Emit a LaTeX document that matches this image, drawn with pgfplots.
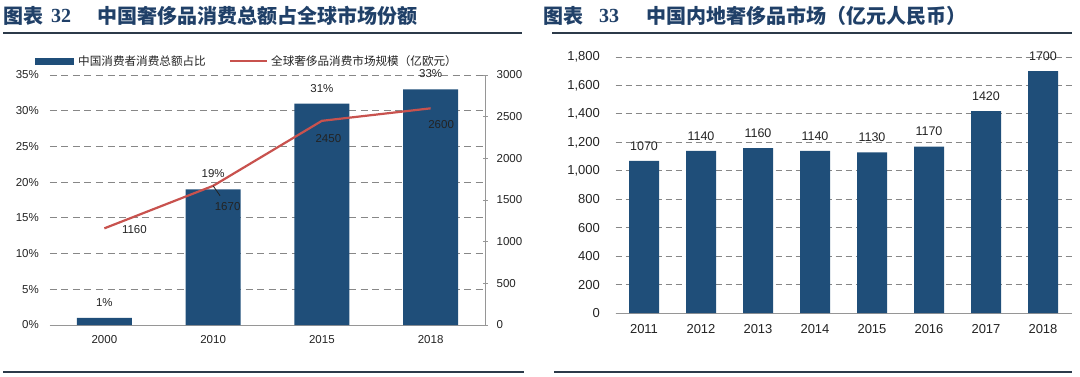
\documentclass[border=0pt]{standalone}
\usepackage{pgfplots}
\usepackage{pgfplotstable}
\pgfplotsset{compat=1.18}
\usepackage{fontspec}
\setmainfont{Liberation Sans}
\newfontfamily\cjk{Noto Sans CJK SC}
\newfontfamily\serifnum{Liberation Serif}
\definecolor{barblue}{RGB}{31,78,121}
\definecolor{linered}{RGB}{200,82,78}
\definecolor{titleblue}{RGB}{32,64,104}
\definecolor{rulecol}{RGB}{44,58,74}
\definecolor{gridgray}{RGB}{135,135,135}
\definecolor{axgray}{RGB}{150,150,150}
\definecolor{txt}{RGB}{35,35,35}
\pgfplotsset{/pgf/number format/assume math mode=true, /pgf/number format/1000 sep={}}

\pgfplotstableread{
x y
0 1
1 19
2 31
3 33
}\sharedata
\pgfplotstableread{
x y dx dy
0 1160 30 -1
1 1670 14.5 -21
2 2450 6.5 -18
3 2600 10.5 -16
}\marketdata
\pgfplotstableread{
x y
0 1070
1 1140
2 1160
3 1140
4 1130
5 1170
6 1420
7 1700
}\chinadata

\begin{document}
\begin{tikzpicture}
\path[use as bounding box] (0,0) rectangle (1080pt,376pt);
% titles
\node[anchor=west, inner sep=0pt, text=titleblue, font=\cjk\bfseries\fontsize{20}{24}\selectfont] at (3pt,360pt) {图表};
\node[anchor=west, inner sep=0pt, text=titleblue, font=\serifnum\bfseries\fontsize{20}{24}\selectfont] at (51pt,360pt) {32};
\node[anchor=west, inner sep=0pt, text=titleblue, font=\cjk\bfseries\fontsize{20}{24}\selectfont] at (97pt,360pt) {中国奢侈品消费总额占全球市场份额};
\node[anchor=west, inner sep=0pt, text=titleblue, font=\cjk\bfseries\fontsize{20}{24}\selectfont] at (543pt,360pt) {图表};
\node[anchor=west, inner sep=0pt, text=titleblue, font=\serifnum\bfseries\fontsize{20}{24}\selectfont] at (599pt,360pt) {33};
\node[anchor=west, inner sep=0pt, text=titleblue, font=\cjk\bfseries\fontsize{20}{24}\selectfont] at (646pt,360pt) {中国内地奢侈品市场（亿元人民币）};
% rules
\draw[rulecol, line width=2.5pt] (3pt,343pt) -- (522pt,343pt);
\draw[rulecol, line width=2.5pt] (552pt,343pt) -- (1072pt,343pt);
\draw[rulecol, line width=2pt] (3pt,4pt) -- (524pt,4pt);
\draw[rulecol, line width=2pt] (554pt,4pt) -- (1072pt,4pt);
% legend (left chart)
\fill[barblue] (35pt,311.5pt) rectangle (74pt,318.5pt);
\node[anchor=west, inner sep=0pt, text=txt, font=\cjk\fontsize{11.6}{13}\selectfont] at (78pt,315pt) {中国消费者消费总额占比};
\draw[linered, line width=2.5pt] (230pt,315pt) -- (267pt,315pt);
\node[anchor=west, inner sep=0pt, text=txt, font=\cjk\fontsize{11.6}{13}\selectfont] at (271pt,315pt) {全球奢侈品消费市场规模（亿欧元）};

% ---------- left chart: bars ----------
\begin{axis}[
  at={(50pt,51pt)}, anchor=south west, scale only axis,
  width=435pt, height=250pt,
  ybar, bar width=55pt,
  xmin=-0.5, xmax=3.5, ymin=0, ymax=35,
  axis x line*=bottom, axis y line*=left,
  x axis line style={draw=axgray, line width=1pt},
  y axis line style={draw=none},
  xtick={0,1,2,3}, xticklabels={2000,2010,2015,2018},
  ytick={0,5,...,35}, yticklabels={0\%,5\%,10\%,15\%,20\%,25\%,30\%,35\%},
  major tick length=0pt,
  ymajorgrids, major grid style={draw=gridgray, line width=1pt, dash pattern=on 7pt off 4.5pt},
  ticklabel style={text=txt, font=\fontsize{11.5}{13}\selectfont},
  xticklabel style={anchor=center, inner sep=0pt, yshift=-15pt},
  yticklabel style={anchor=east, inner sep=0pt, xshift=-11pt},
  clip=false,
]
\addplot[fill=barblue, draw=none,
  nodes near coords={\pgfmathprintnumber{\pgfplotspointmeta}\%},
  every node near coord/.append style={text=txt, font=\fontsize{11.5}{13}\selectfont, inner sep=0pt, yshift=11pt}]
  table[x=x,y=y]{\sharedata};
\end{axis}

% ---------- left chart: line on right axis ----------
\begin{axis}[
  at={(50pt,51pt)}, anchor=south west, scale only axis,
  width=435pt, height=250pt,
  xmin=-0.5, xmax=3.5, ymin=0, ymax=3000,
  axis x line=none, axis y line*=right,
  y axis line style={draw=axgray, line width=1pt},
  ytick={0,500,...,3000},
  ytick style={draw=axgray, line width=1pt}, major tick length=5pt, tick align=center,
  yticklabel style={anchor=west, inner sep=0pt, xshift=9pt, text=txt, font=\fontsize{11.5}{13}\selectfont},
  clip=false,
]
\addplot[linered, line width=2.2pt, mark=none, nodes near coords, point meta=explicit,
   visualization depends on={\thisrow{dx} \as \dx},
   visualization depends on={\thisrow{dy} \as \dy},
   every node near coord/.append style={anchor=center, inner sep=0pt, xshift=\dx pt, yshift=\dy pt, text=txt, font=\fontsize{11.5}{13}\selectfont}]
   table[x=x,y=y,meta=y]{\marketdata};
\draw[txt, line width=0.8pt] (axis cs:1,1670) -- ++(7pt,-10pt);
\end{axis}

% ---------- right chart ----------
\begin{axis}[
  at={(615.5pt,63pt)}, anchor=south west, scale only axis,
  width=456pt, height=256pt,
  ybar, bar width=30pt,
  xmin=-0.5, xmax=7.5, ymin=0, ymax=1800,
  axis x line*=bottom, axis y line*=left,
  x axis line style={draw=axgray, line width=1pt},
  y axis line style={draw=none},
  xtick={0,...,7}, xticklabels={2011,2012,2013,2014,2015,2016,2017,2018},
  ytick={0,200,...,1800}, yticklabels={0,200,400,600,800,{1,000},{1,200},{1,400},{1,600},{1,800}},
  major tick length=0pt,
  ymajorgrids, major grid style={draw=gridgray, line width=1pt, dash pattern=on 6pt off 4pt},
  ticklabel style={text=txt, font=\fontsize{13}{15}\selectfont},
  xticklabel style={anchor=center, inner sep=0pt, yshift=-16pt},
  yticklabel style={anchor=east, inner sep=0pt, xshift=-15.5pt},
  clip=false,
]
\addplot[fill=barblue, draw=none, nodes near coords,
  every node near coord/.append style={text=txt, font=\fontsize{12.5}{14}\selectfont, inner sep=0pt, yshift=10.5pt}]
  table[x=x,y=y]{\chinadata};
\end{axis}
\end{tikzpicture}
\end{document}
